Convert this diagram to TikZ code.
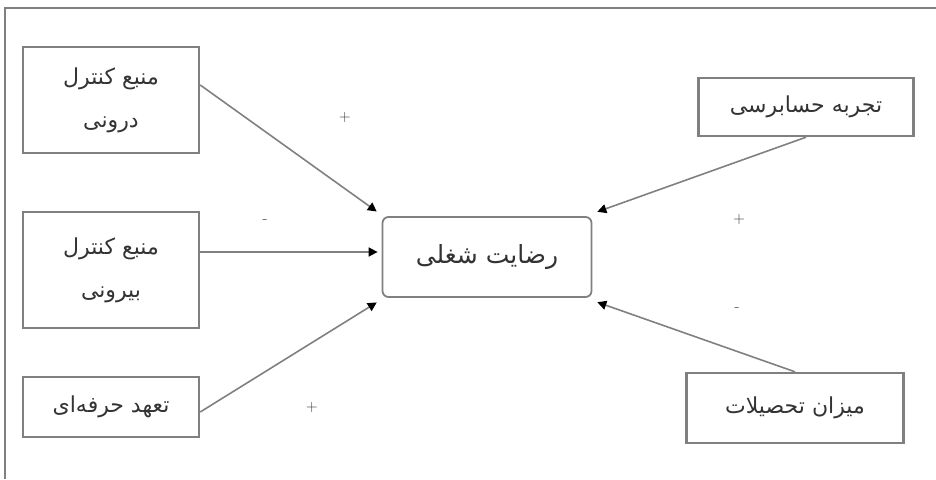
\documentclass[tikz,border=0pt]{standalone}
\usepackage{fontspec}
\newfontfamily\arabicfont[Script=Arabic]{DejaVu Sans}
\TeXXeTstate=1
\usetikzlibrary{arrows.meta,calc}
\begin{document}
\begin{tikzpicture}[x=1pt,y=-1pt,
  box/.style={draw=black!50,line width=2.4pt,minimum width=#1,inner sep=0pt,align=center,text=black!80,
    font=\arabicfont\fontsize{22}{43}\selectfont},
  box/.default=176pt,
  conn/.style={draw=black!50,line width=1.6pt,-{Triangle[length=9pt,width=9pt,color=black]},shorten >=1pt},
  sign/.style={font=\fontsize{16}{16}\selectfont,text=black!80,inner sep=0pt},
  frame/.style={draw=black!50,line width=2pt}]
\useasboundingbox (0,0) rectangle (936,479);
\draw[frame] (5,479) -- (5,8) -- (936,8);
% left boxes
\node[box,minimum height=106pt] (n1) at (111,100) {\beginR منبع کنترل\endR\\\beginR درونی\endR};
\node[box,minimum height=116pt] (n2) at (111,270) {\beginR منبع کنترل\endR\\\beginR بیرونی\endR};
\node[box,minimum height=60pt] (n3) at (111,407) {\beginR تعهد حرفه‌ای\endR};
% center
\node[box,minimum width=209pt,minimum height=80pt,rounded corners=6pt,line width=1.8pt,font=\arabicfont\fontsize{25}{30}\selectfont] (c) at (487,257) {\beginR رضایت شغلی\endR};
% right boxes
\node[box=215pt,minimum height=58pt] (n4) at (806,107) {\beginR تجربه حسابرسی\endR};
\node[box=217pt,minimum height=70pt] (n5) at (795,408) {\beginR میزان تحصیلات\endR};
% connectors
\coordinate (a1) at ($(c.north west)+(-4,-4)$);
\coordinate (a2) at ($(c.west)+(-3,-5)$);
\coordinate (a3) at ($(c.south west)+(-4,4)$);
\coordinate (a4) at ($(c.north east)+(4,-4)$);
\coordinate (a5) at ($(c.south east)+(4,4)$);
\draw[conn] ($(n1.east)+(0,-15)$) -- (a1);
\draw[conn] (n2.east |- a2) -- (a2);
\draw[conn] ($(n3.east)+(0,5)$) -- (a3);
\draw[conn] (n4.south) -- (a4);
\draw[conn] (n5.north) -- (a5);
% signs
\node[sign] (s1) at (345,118) {+};
\node[sign] (s2) at (265,222) {-};
\node[sign] (s3) at (312,408) {+};
\node[sign] (s4) at (739,220) {+};
\node[sign] (s5) at (737,310) {-};
\end{tikzpicture}
\end{document}
